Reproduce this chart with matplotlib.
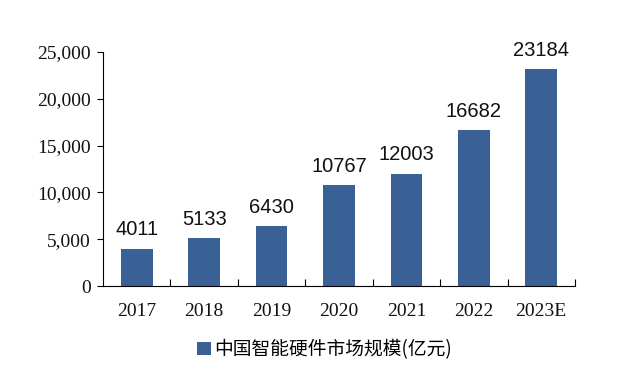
import matplotlib.pyplot as plt
from matplotlib.ticker import FuncFormatter, FixedLocator

years = ['2017', '2018', '2019', '2020', '2021', '2022', '2023E']
values = [4011, 5133, 6430, 10767, 12003, 16682, 23184]
legend_label = '中国智能硬件市场规模(亿元)'

BAR_COLOR = '#3A6195'


def main():
    fig = plt.figure(figsize=(6.36, 3.77), dpi=100)
    ax = fig.add_axes([0.162, 0.241, 0.742, 0.621])

    x = range(len(years))
    bars = ax.bar(x, values, width=0.47, color=BAR_COLOR, label=legend_label)
    for b, v in zip(bars, values):
        ax.text(b.get_x() + b.get_width() / 2, v + 1000, str(v),
                ha='center', va='bottom', fontsize=14.5,
                family='Liberation Sans', color='#111111')

    ax.set_xlim(-0.5, len(years) - 0.5)
    ax.set_ylim(0, 25000)
    ax.set_yticks(range(0, 25001, 5000))
    ax.yaxis.set_major_formatter(FuncFormatter(lambda v, p: f'{int(v):,}'))

    # x ticks between categories, labels centred under bars
    ax.set_xticks([i + 0.5 for i in range(len(years))])
    ax.set_xticklabels([])
    ax.xaxis.set_minor_locator(FixedLocator(list(x)))
    ax.set_xticklabels(years, minor=True)
    ax.tick_params(axis='x', which='major', direction='in', length=5, width=0.8)
    ax.tick_params(axis='x', which='minor', length=0, pad=12)
    ax.tick_params(axis='y', direction='out', length=4, width=0.8, pad=5)

    for lab in ax.get_xticklabels(minor=True) + ax.get_yticklabels():
        lab.set_family('Liberation Serif')
        lab.set_fontsize(14)
        lab.set_color('#111111')

    ax.spines['top'].set_visible(False)
    ax.spines['right'].set_visible(False)
    ax.spines['left'].set_linewidth(0.8)
    ax.spines['bottom'].set_linewidth(0.8)

    fig.legend(loc='lower center', bbox_to_anchor=(0.51, 0.0), frameon=False,
               prop={'family': ['Noto Sans CJK SC', 'DejaVu Sans'], 'size': 13.5},
               handlelength=0.75, handleheight=0.75, handletextpad=0.2)

    fig.savefig('out.png', dpi=100)


if __name__ == '__main__':
    main()
